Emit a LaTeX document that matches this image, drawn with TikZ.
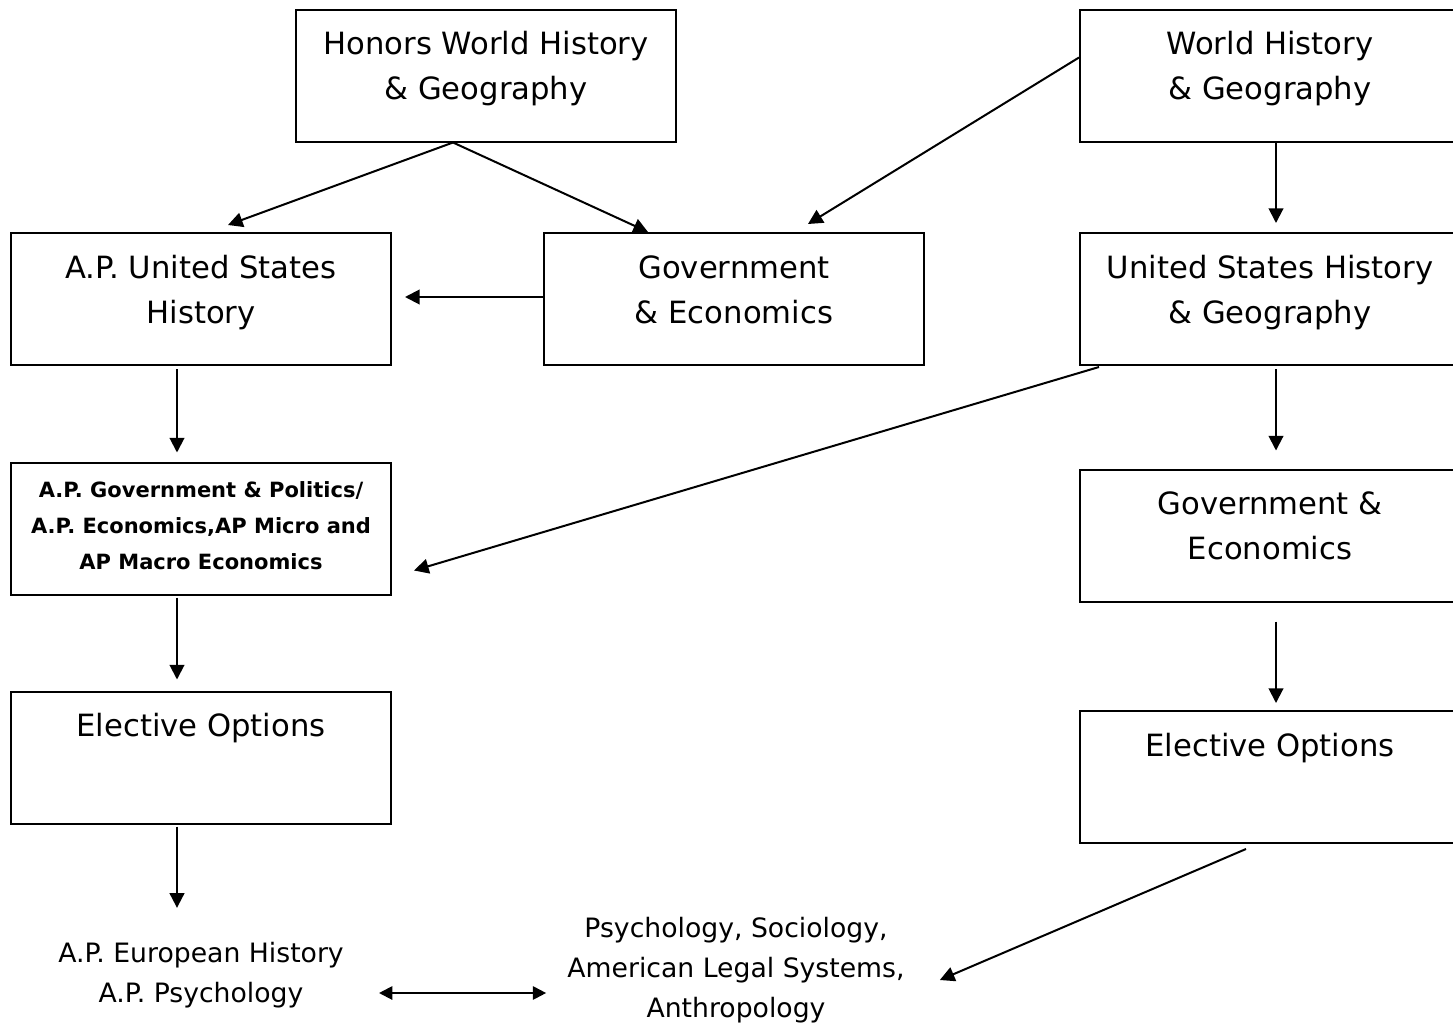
\documentclass[tikz,border=0pt]{standalone}
\usepackage{fontspec}
\setmainfont{DejaVu Sans}
\usetikzlibrary{arrows.meta,calc}

\tikzset{
  box/.style={draw, line width=1.5pt, inner sep=0pt, font=\fontsize{23}{33.75}\selectfont},
  plain/.style={inner sep=0pt, align=center, font=\fontsize{20}{30}\selectfont},
  arr/.style={line width=1.5pt, -{Triangle[length=11pt,width=11pt]}},
  dblarr/.style={line width=1.5pt, {Triangle[length=10pt,width=10pt]}-{Triangle[length=10pt,width=10pt]}}
}
\newcommand{\boxtxt}[2][33.75pt]{\parbox[c][99pt][t]{285pt}{\centering\rule{0pt}{#1}#2\par}}

\begin{document}
\begin{tikzpicture}[x=0.75pt,y=0.75pt,yscale=-1,xscale=1]
\useasboundingbox (0,0) rectangle (1453,1028);
\clip (0,0) rectangle (1453,1028);

%Shape: Rectangle
\node[box] (honors) at (486,75.5) {\boxtxt{Honors World History\\\& Geography}};
%Shape: Rectangle
\node[box] (world) at (1270,75.5) {\boxtxt{World History\\\& Geography}};
%Shape: Rectangle
\node[box] (apush) at (201,299) {\boxtxt{A.P. United States\\History}};
%Shape: Rectangle
\node[box] (gov) at (734,299) {\boxtxt{Government\\\& Economics}};
%Shape: Rectangle
\node[box] (ush) at (1270,299) {\boxtxt{United States History\\\& Geography}};
%Shape: Rectangle
\node[box] (apgov) at (201,528.5) {\boxtxt[26.25pt]{\bfseries\fontsize{15.75}{27}\selectfont A.P. Government \& Politics/\\A.P. Economics,AP Micro and\\AP Macro Economics}};
%Shape: Rectangle
\node[box] (gov2) at (1270,535.5) {\boxtxt{Government \&\\Economics}};
%Shape: Rectangle
\node[box] (elecL) at (201,757.5) {\boxtxt{Elective Options}};
%Shape: Rectangle
\node[box] (elecR) at (1270,777) {\boxtxt{Elective Options}};

% Text Node
\node[plain] (aplist) at (201,975) {A.P. European History\\A.P. Psychology};
% Text Node
\node[plain] (electives) at (736,970) {Psychology, Sociology,\\American Legal Systems,\\Anthropology};

%Straight Lines
\draw[arr] ($(honors.south)+(-33,0)$) -- ($(apush.north)+(27,-7)$);
%Straight Lines
\draw[arr] ($(honors.south)+(-33,0)$) -- ($(gov.north)+(-86,0)$);
%Straight Lines
\draw[arr] ($(world.west)+(0,-18)$) -- ($(gov.north)+(74,-8)$);
%Straight Lines
\draw[arr] ($(world.south)+(6,0)$) -- ($(ush.north)+(6,-9)$);
%Straight Lines
\draw[arr] ($(gov.west)+(0,-2)$) -- ($(apush.east)+(13,-2)$);
%Straight Lines
\draw[arr] ($(apush.south)+(-24,3)$) -- ($(apgov.north)+(-24,-9)$);
%Straight Lines
\draw[arr] ($(ush.south west)+(20,1)$) -- ($(apgov.east)+(22,42)$);
%Straight Lines
\draw[arr] ($(ush.south)+(6,3)$) -- ($(gov2.north)+(6,-18)$);
%Straight Lines
\draw[arr] ($(apgov.south)+(-24,2)$) -- ($(elecL.north)+(-24,-11)$);
%Straight Lines
\draw[arr] ($(gov2.south)+(6,19)$) -- ($(elecR.north)+(6,-7)$);
%Straight Lines
\draw[arr] ($(elecL.south)+(-24,2)$) -- ($(aplist.north)+(-24,-34)$);
%Straight Lines
\draw[arr] ($(elecR.south)+(-24,5)$) -- ($(electives.east)+(35,10)$);
%Straight Lines
\draw[dblarr] ($(aplist.east)+(35,18)$) -- ($(electives.west)+(-21,23)$);

\end{tikzpicture}
\end{document}
